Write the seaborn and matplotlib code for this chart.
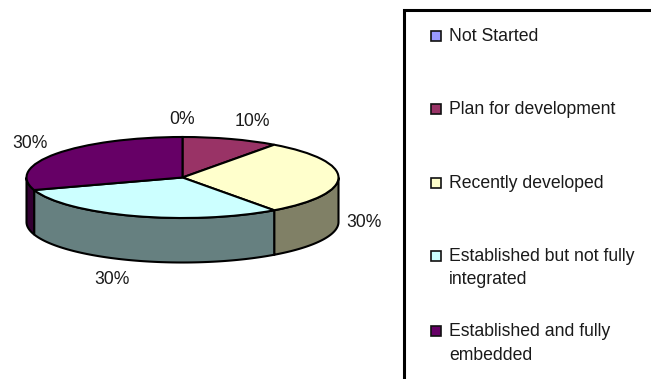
import numpy as np
import matplotlib
matplotlib.use("Agg")
import matplotlib.pyplot as plt
from matplotlib.patches import Rectangle
import seaborn as sns

categories = ["Not Started", "Plan for development", "Recently developed",
              "Established but not fully\nintegrated", "Established and fully\nembedded"]
values = [0, 10, 30, 30, 30]
value_labels = ["0%", "10%", "30%", "30%", "30%"]
hex_colors = ["#9999FF", "#993366", "#FFFFCC", "#CCFFFF", "#660066"]

sns.set_theme(style="white")
plt.rcParams["font.family"] = ["Liberation Sans", "DejaVu Sans"]
palette = sns.color_palette(hex_colors)

W, H = 651, 379
CX, CY, RX, RY, DEPTH = 182.5, 177.5, 156.0, 40.5, 44.5
TEXT = "#1a1a1a"
FS = 12.7

fig = plt.figure(figsize=(W / 100, H / 100), dpi=100, facecolor="white")
ax = fig.add_axes([0, 0, 1, 1])

# side wall, from the same shares as the pie
d = DEPTH / RY
edges = np.concatenate([[0], np.cumsum(values)]) / sum(values) * 2 * np.pi
for i, col in enumerate(palette):
    a0, a1 = max(edges[i], np.pi / 2), min(edges[i + 1], 3 * np.pi / 2)
    if a1 <= a0:
        continue
    t = np.linspace(a0, a1, 80)
    x, y = np.sin(t), np.cos(t)
    ax.fill(np.r_[x, x[::-1]], np.r_[y, y[::-1] - d],
            facecolor=tuple(c * 0.5 for c in col), edgecolor="black", lw=1.5, zorder=1)

ax.pie(values, colors=palette, startangle=90, counterclock=False, radius=1,
       wedgeprops=dict(edgecolor="black", linewidth=1.5, zorder=2))
ax.set_aspect("auto")
ax.set_xlim(-CX / RX, (W - CX) / RX)
ax.set_ylim(-(H - CY) / RY, CY / RY)
ax.axis("off")

# value labels (pixel placement of the label text)
label_px = [(182, 120), (252, 122), (364, 222), (112, 279), (30, 144)]
for txt, (px, py) in zip(value_labels, label_px):
    fig.text(px / W, 1 - py / H, txt, ha="center", va="center", fontsize=FS, color=TEXT)

# legend frame runs off the canvas on the right and the bottom
fig.add_artist(Rectangle((404 / W, 1 - 420 / H), 300 / W, 410 / H, transform=fig.transFigure,
                         fill=False, edgecolor="black", lw=2.2))
# legend entries sit in equal slots, the swatch level with the first line of text
entry_y = [36, 109, 183, 256, 331]
for label, col, py in zip(categories, palette, entry_y):
    fig.add_artist(Rectangle((431 / W, 1 - (py + 5) / H), 10 / W, 10 / H, transform=fig.transFigure,
                             facecolor=col, edgecolor="#111111", lw=1.2))
    fig.text(449 / W, 1 - (py - 8) / H, label, ha="left", va="top", fontsize=FS,
             color=TEXT, linespacing=1.5)

fig.savefig("out.png", dpi=100, facecolor="white")
